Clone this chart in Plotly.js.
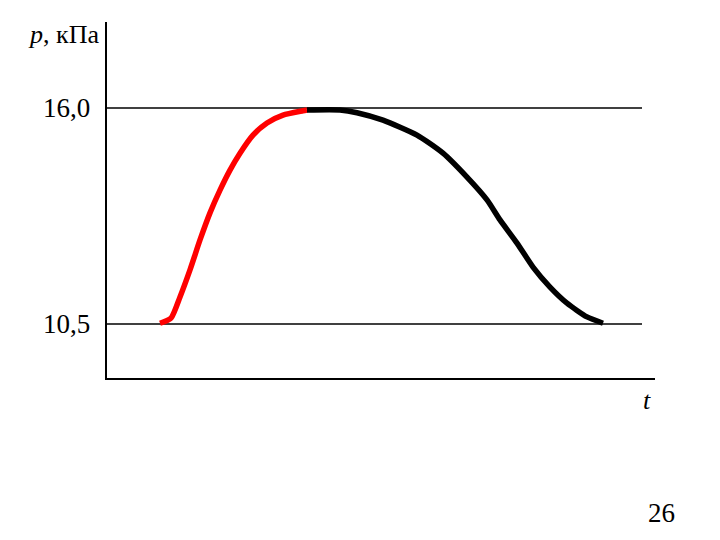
<!DOCTYPE html>
<html>
<head>
<meta charset="utf-8">
<script src="https://cdn.plot.ly/plotly-3.0.1.min.js"></script>
<style>body{margin:0;background:#fff}#chart{width:720px;height:540px}</style>
</head>
<body>
<div id="chart"></div>
<script>
// time (arbitrary units) and pressure (kPa)
const tRise = [53, 64, 73, 83, 93, 103, 113, 123, 133, 146, 160, 176, 196, 200];
const pRise = [10.52, 10.65, 11.19, 11.88, 12.64, 13.33, 13.91, 14.42, 14.85, 15.31, 15.62, 15.82, 15.93, 15.95];
const tFall = [200, 233, 250, 276, 310, 336, 360, 380, 393, 410, 426, 443, 460, 480, 496];
const pFall = [15.95, 15.95, 15.88, 15.69, 15.31, 14.85, 14.24, 13.66, 13.15, 12.56, 11.95, 11.44, 11.03, 10.68, 10.52];
const levels = [10.5, 16.0];
const levelLabels = ["10,5", "16,0"];

const serif = "'Liberation Serif', 'Times New Roman', Times, serif";

const traces = [
  {x: tRise, y: pRise, mode: "lines", line: {color: "#ff0000", width: 5.5, shape: "spline", smoothing: 0.6}, hoverinfo: "skip"},
  {x: tFall, y: pFall, mode: "lines", line: {color: "#000000", width: 5.5, shape: "spline", smoothing: 0.6}, hoverinfo: "skip"}
];

const shapes = levels.map(v => ({
  type: "line", xref: "x", yref: "y", x0: 0, x1: 535, y0: v, y1: v,
  line: {color: "#000", width: 1.3}, layer: "below"
}));

const annotations = levels.map((v, i) => ({
  xref: "paper", yref: "y", x: 0, y: v, xanchor: "right", yanchor: "middle",
  xshift: -15, text: levelLabels[i], showarrow: false,
  font: {family: serif, size: 27, color: "#000"}
}));
annotations.push({
  xref: "paper", yref: "paper", x: 0, y: 1, xanchor: "right", yanchor: "top",
  xshift: -6, yshift: 4, text: "<i>p</i>, кПа", showarrow: false,
  font: {family: serif, size: 26, color: "#000"}
});
annotations.push({
  xref: "paper", yref: "paper", x: 1, y: 0, xanchor: "center", yanchor: "top",
  xshift: -8, yshift: -6, text: "<i>t</i>", showarrow: false,
  font: {family: serif, size: 26, color: "#000"}
});
annotations.push({
  xref: "paper", yref: "paper", x: 1, y: 0, xanchor: "right", yanchor: "top",
  xshift: 22, yshift: -118, text: "26", showarrow: false,
  font: {family: serif, size: 27, color: "#000"}
});

const layout = {
  width: 720, height: 540,
  margin: {l: 107, r: 65, t: 22, b: 162},
  paper_bgcolor: "#fff", plot_bgcolor: "#fff",
  showlegend: false,
  font: {family: serif},
  xaxis: {range: [0, 548], showgrid: false, zeroline: false, showticklabels: false,
          ticks: "", showline: true, linecolor: "#000", linewidth: 2},
  yaxis: {range: [9.125, 18.19], showgrid: false, zeroline: false, showticklabels: false,
          ticks: "", showline: true, linecolor: "#000", linewidth: 2},
  shapes: shapes,
  annotations: annotations
};

Plotly.newPlot("chart", traces, layout, {staticPlot: true, displayModeBar: false});
</script>
</body>
</html>
